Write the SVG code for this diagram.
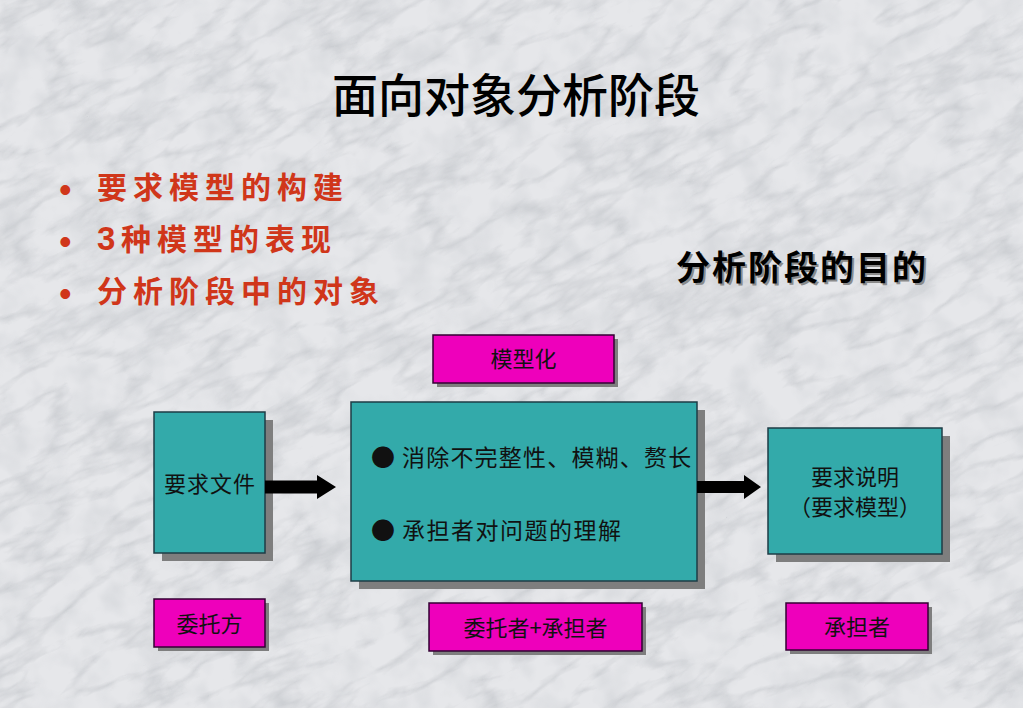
<svg xmlns="http://www.w3.org/2000/svg" width="1023" height="708" viewBox="0 0 1023 708">
<defs>
<style>
.cjk{font-family:"Noto Sans CJK SC","Noto Sans CJK JP",sans-serif;}
.red{fill:#D0361A;font-weight:bold;font-size:30px;letter-spacing:6px;}
.dot{font-family:"Liberation Sans",sans-serif;font-size:36px;fill:#D0361A;}
.lbl{font-size:22px;fill:#111;text-anchor:middle;}
.teal{fill:#33AAAA;stroke:#1E3C46;stroke-width:1.5;}
.mag{fill:#EE00BB;stroke:#330033;stroke-width:1.5;}
.shd{fill:#7E7E7E;}
.arrow{fill:#000;}
</style>
<filter id="marble" x="0" y="0" width="100%" height="100%">
<feTurbulence type="turbulence" baseFrequency="0.012 0.035" numOctaves="4" seed="7" result="t"/>
<feColorMatrix in="t" type="matrix" values="0 0 0 0 0.45  0 0 0 0 0.47  0 0 0 0 0.5  -3 0 0 0 0.95"/>
</filter>
<filter id="mottle" x="0" y="0" width="100%" height="100%">
<feTurbulence type="fractalNoise" baseFrequency="0.03" numOctaves="3" seed="3" result="n"/>
<feColorMatrix in="n" type="matrix" values="0 0 0 0 0.6  0 0 0 0 0.62  0 0 0 0 0.65  2.2 0 0 0 -0.9"/>
</filter>
</defs>
<rect width="1023" height="708" fill="#E6E7EA"/>
<rect width="1023" height="708" filter="url(#mottle)" opacity="0.5"/>
<g opacity="0.42">
<rect x="-300" y="-300" width="1700" height="1400" filter="url(#marble)" transform="rotate(-28 511 354)"/>
</g>

<g id="title">
<text class="cjk" x="332" y="112" font-size="46" font-weight="500" fill="#000">面向对象分析阶段</text>
</g>

<g id="bullets">
<text class="dot" x="59" y="202">•</text>
<text class="cjk red" x="97" y="198">要求模型的构建</text>
<text class="dot" x="59" y="254">•</text>
<text class="cjk red" x="97" y="250"><tspan font-family="Liberation Sans,sans-serif" letter-spacing="0" font-size="33">3</tspan><tspan x="121">种模型的表现</tspan></text>
<text class="dot" x="59" y="306">•</text>
<text class="cjk red" x="97" y="302">分析阶段中的对象</text>
</g>

<g id="subtitle">
<text class="cjk" x="678" y="282" font-size="34" font-weight="bold" letter-spacing="2" fill="#8A8A8A">分析阶段的目的</text>
<text class="cjk" x="676" y="280" font-size="34" font-weight="bold" letter-spacing="2" fill="#000">分析阶段的目的</text>
</g>

<g id="node-modeling">
<rect class="shd" x="437" y="339" width="181" height="48"/>
<rect class="mag" x="433" y="335" width="181" height="48"/>
<text class="cjk lbl" x="523.5" y="367">模型化</text>
</g>

<g id="node-req-doc">
<rect class="shd" x="162" y="420" width="111" height="141"/>
<rect class="teal" x="154" y="412" width="111" height="141"/>
<text class="cjk lbl" x="210" y="492" letter-spacing="1">要求文件</text>
</g>

<g id="node-process">
<rect class="shd" x="359" y="410" width="346" height="179"/>
<rect class="teal" x="351" y="402" width="346" height="179"/>
<text class="cjk" x="371" y="466" font-size="23" fill="#111" letter-spacing="1.2"><tspan font-size="24" letter-spacing="0">●</tspan><tspan x="402">消除不完整性、模糊、赘长</tspan></text>
<text class="cjk" x="371" y="539" font-size="23" fill="#111" letter-spacing="1.5"><tspan font-size="24" letter-spacing="0">●</tspan><tspan x="402">承担者对问题的理解</tspan></text>
</g>

<g id="node-req-spec">
<rect class="shd" x="776" y="436" width="174" height="126"/>
<rect class="teal" x="768" y="428" width="174" height="126"/>
<text class="cjk lbl" x="855" y="485" font-size="21">要求说明</text>
<text class="cjk lbl" x="855" y="515" font-size="21">（要求模型）</text>
</g>

<g id="node-client">
<rect class="shd" x="158" y="603" width="111" height="48"/>
<rect class="mag" x="154" y="599" width="111" height="48"/>
<text class="cjk lbl" x="209.5" y="632">委托方</text>
</g>

<g id="node-both">
<rect class="shd" x="433" y="607" width="213" height="48"/>
<rect class="mag" x="429" y="603" width="213" height="48"/>
<text class="cjk lbl" x="535.5" y="636">委托者+承担者</text>
</g>

<g id="node-contractor">
<rect class="shd" x="790" y="607" width="142" height="47"/>
<rect class="mag" x="786" y="603" width="142" height="47"/>
<text class="cjk lbl" x="857" y="635">承担者</text>
</g>

<g id="connectors">
<polygon class="arrow" points="265,480.5 317,480.5 317,475 336,487 317,499 317,493.5 265,493.5"/>
<polygon class="arrow" points="697,481 744,481 744,475 761,487 744,499 744,493 697,493"/>
</g>
</svg>
